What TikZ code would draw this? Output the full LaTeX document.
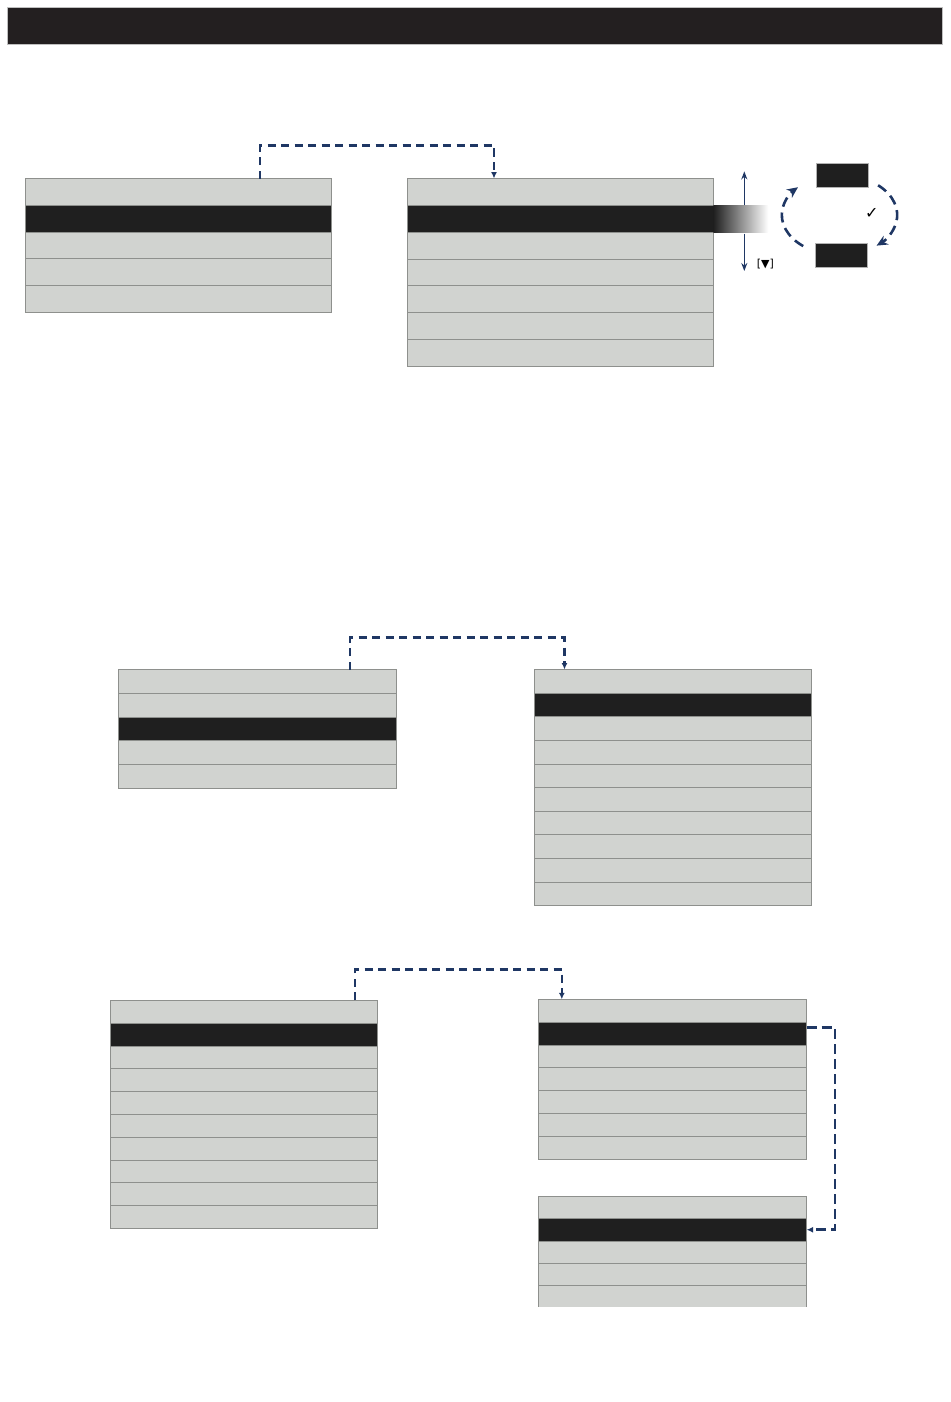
\documentclass[tikz,border=0pt]{standalone}
\usepackage{fontspec}
\newfontfamily\dejavu{DejaVu Sans}
\usetikzlibrary{arrows.meta,calc}
\definecolor{rowgray}{HTML}{D1D3D0}
\definecolor{rowline}{HTML}{8E908D}
\definecolor{selcol}{HTML}{1F1F1F}
\definecolor{navy}{HTML}{1F3764}
\definecolor{barcol}{HTML}{231F20}
\tikzset{
  menurow/.style={draw=rowline, fill=rowgray, line width=0.8pt, inner sep=0pt, outer sep=0pt, anchor=north west},
  selrow/.style={menurow, fill=selcol},
  keybox/.style={fill=selcol, draw=gray!60, line width=0.4pt, inner sep=0pt, outer sep=0pt, anchor=north west, minimum width=52pt, minimum height=24pt},
  flowconn/.style={navy, line width=2.6pt, dash pattern=on 8pt off 5.5pt, -{Latex[length=6.5pt,width=6pt]}},
  cycarrow/.style={navy, line width=2.6pt, dash pattern=on 10pt off 6pt, -{Stealth[length=11pt,width=10pt]}},
  updn/.style={navy, line width=1.5pt, -{Stealth[length=8pt,width=6pt]}}
}
\newcommand\menulist[7]{%
  \foreach \i in {1,...,#6}{%
    \ifnum\i=#7\relax\def\rowstyle{selrow}\else\def\rowstyle{menurow}\fi
    \node[\rowstyle, minimum width=#4pt, minimum height=#5pt] (#1-\i) at (#2, {#3+(\i-1)*#5}) {};
  }%
}
\begin{document}
\begin{tikzpicture}[x=1pt, y=-1pt]
\useasboundingbox (0,0) rectangle (950,1402);
% header bar
\node[fill=barcol, draw=gray!50, line width=0.5pt, anchor=north west, minimum width=934.7pt, minimum height=37pt, inner sep=0pt] (hdr) at (7.3,7.3) {};

% menus
\menulist{m1}{25}{178.5}{306.5}{26.75}{5}{2}
\menulist{m2}{407}{178.5}{306.3}{26.8}{7}{2}
\menulist{m3}{118.5}{669.5}{277.5}{23.75}{5}{3}
\menulist{m4}{534.5}{669.5}{276.5}{23.6}{10}{2}
\menulist{m5}{110.5}{1000.3}{266.8}{22.8}{10}{2}
\menulist{m6}{538.8}{999.3}{267.8}{22.85}{7}{2}
\menulist{m7}{538.8}{1196.3}{267.8}{22.3}{5}{2}
\draw[white, line width=1.6pt] ([xshift=-1pt]m7-5.south west) -- ([xshift=1pt]m7-5.south east);

% gradient highlight extension
\node[anchor=west, minimum width=55pt, minimum height=26.6pt, inner sep=0pt, outer sep=0pt, left color=selcol, right color=white] (grad) at (m2-2.east) {};

% up / down arrows
\draw[updn] ([xshift=31pt]grad.north west) -- ++(0pt,34pt);
\draw[updn] ([xshift=31pt,yshift=-1.5pt]grad.south west) -- ++(0pt,-37.5pt);
\node[font=\dejavu\fontsize{11}{12}\selectfont, inner sep=0pt] (dnkey) at (765.3,264.5) {[▼]};

% key boxes and cycle arrows
\node[keybox] (k1) at (816,163.3) {};
\node[keybox] (k2) at (815,243.3) {};
\coordinate (ec) at (839.5,215);
\draw[cycarrow] (ec) ++(231:57.7pt and 40pt) arc[start angle=231, end angle=136, x radius=57.7pt, y radius=40pt];
\draw[cycarrow] (ec) ++(48:57.7pt and 40pt) arc[start angle=48, end angle=-50, x radius=57.7pt, y radius=40pt];
\node[font=\dejavu\fontsize{16}{16}\selectfont, inner sep=0pt] (chk) at (871.7,213) {✓};

% dashed connectors
\draw[flowconn] ([xshift=235pt]m1-1.north west) -- ++(0pt,33pt) -| ([xshift=87pt]m2-1.north west);
\draw[flowconn] ([xshift=231.5pt]m3-1.north west) -- ++(0pt,32pt) -| ([xshift=30pt]m4-1.north west);
\draw[flowconn] ([xshift=244.5pt]m5-1.north west) -- ++(0pt,31pt) -| ([xshift=23pt]m6-1.north west);
\draw[flowconn, dash pattern=on 10pt off 5pt] ([yshift=6pt]m6-2.east) -- ++(28.5pt,0pt) |- (m7-2.east);
\end{tikzpicture}
\end{document}
